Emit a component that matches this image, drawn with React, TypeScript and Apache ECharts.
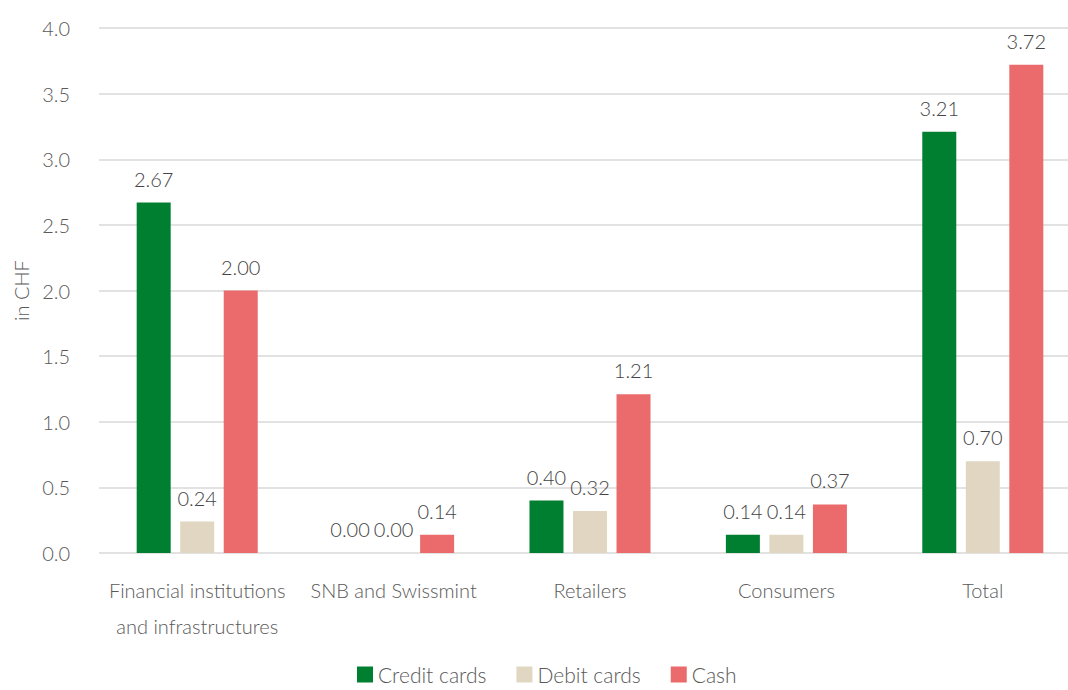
import React, { useEffect, useRef } from "react";
import * as echarts from "echarts";

const categories = [
  "Financial institutions\nand infrastructures",
  "SNB and Swissmint",
  "Retailers",
  "Consumers",
  "Total",
];
const creditCards = [2.67, 0.0, 0.4, 0.14, 3.21];
const debitCards = [0.24, 0.0, 0.32, 0.14, 0.7];
const cash = [2.0, 0.14, 1.21, 0.37, 3.72];
const seriesNames = ["Credit cards", "Debit cards", "Cash"];
const colors = ["#017F30", "#E0D6C2", "#EB6A6B"];

const FONT = "Lato, 'Noto Sans', sans-serif";

export default function App() {
  const ref = useRef<HTMLDivElement>(null);
  useEffect(() => {
    if (!ref.current) return;
    const chart = echarts.init(ref.current, undefined, { renderer: "svg" });
    const mk = (name: string, data: number[], color: string) => ({
      name,
      type: "bar",
      data,
      barWidth: 34,
      barGap: "28%",
      itemStyle: { color },
      label: {
        show: true,
        position: "top",
        distance: 14,
        formatter: (p: any) => Number(p.value).toFixed(2),
        color: "#444",
        fontSize: 20,
        fontFamily: FONT,
        fontWeight: 300,
      },
    });
    chart.setOption({
      animation: false,
      textStyle: { fontFamily: FONT },
      grid: { left: 99, right: 19, top: 28, bottom: 137, containLabel: false },
      legend: {
        bottom: 0,
        left: 352,
        itemWidth: 16,
        itemHeight: 16,
        itemGap: 30,
        icon: "rect",
        textStyle: { fontSize: 21, color: "#595959", fontFamily: FONT, fontWeight: 300 },
        data: seriesNames,
      },
      xAxis: {
        type: "category",
        data: categories,
        axisLine: { show: false },
        axisTick: { show: false },
        axisLabel: {
          margin: 19,
          fontSize: 20,
          lineHeight: 36,
          color: "#595959",
          fontFamily: FONT,
          fontWeight: 300,
          interval: 0,
        },
      },
      yAxis: {
        type: "value",
        min: 0,
        max: 4,
        interval: 0.5,
        name: "in CHF",
        nameLocation: "middle",
        nameGap: 68,
        nameTextStyle: { fontSize: 20, color: "#595959", fontFamily: FONT, fontWeight: 300 },
        axisLabel: {
          margin: 29,
          fontSize: 20,
          color: "#595959",
          fontFamily: FONT,
          fontWeight: 300,
          formatter: (v: number) => v.toFixed(1),
        },
        splitLine: { lineStyle: { color: "#D9D9D9", width: 1.5 } },
      },
      series: [
        mk(seriesNames[0], creditCards, colors[0]),
        mk(seriesNames[1], debitCards, colors[1]),
        mk(seriesNames[2], cash, colors[2]),
      ],
    });
    return () => chart.dispose();
  }, []);
  return (
    <div
      ref={ref}
      style={{ position: "fixed", left: 0, top: 0, width: 1100, height: 690, background: "#fff" }}
    />
  );
}
